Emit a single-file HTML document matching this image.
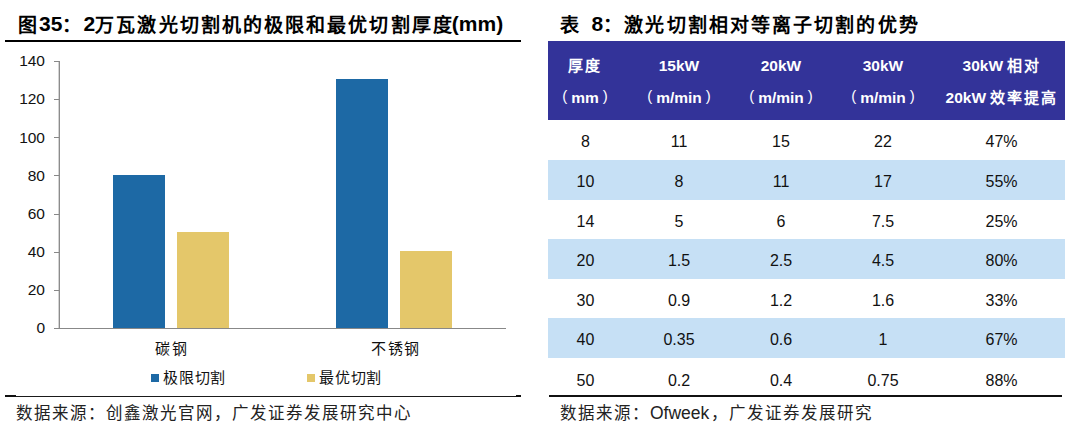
<!DOCTYPE html>
<html lang="zh-CN">
<head>
<meta charset="utf-8">
<style>
html,body{margin:0;padding:0}
body{width:1080px;height:432px;background:#fff;position:relative;overflow:hidden;font-family:"Liberation Sans",sans-serif;color:#111}
.a{position:absolute;white-space:nowrap}
.ttl{font-size:21px;font-weight:bold;line-height:20px;color:#000}
.ttl .c{font-size:19px;letter-spacing:2px;position:relative;top:0.5px}
.yl{font-size:15.5px;line-height:15px;width:30px;text-align:right;left:15px;color:#111}
.tick{left:54px;width:5px;height:1px;background:#888}
.bar{bottom:104px}
.b{background:#1D69A5}
.y{background:#E4C76A}
.cat{font-size:15px;line-height:16px;letter-spacing:1.5px;color:#111}
.fn{font-size:16.5px;line-height:18px;letter-spacing:1px;color:#222}
.row{left:548px;width:517px}
.lb{background:#C6E0F5}
.td{font-size:16px;line-height:16px;text-align:center;color:#111}
.th{font-size:15.5px;line-height:18px;font-weight:bold;text-align:center;color:#fff}
.th .hc{font-size:15px;letter-spacing:2px}
.p1{margin-right:4px;font-size:15px;font-weight:normal;position:relative;top:-2px}
.p2{margin-left:4px;font-size:15px;font-weight:normal;position:relative;top:-2px}
i{display:inline-block;font-style:normal;letter-spacing:0;text-align:left}
.ttl i{width:21.1px}
.cat i{width:16.5px}
.lg i{width:15.8px}
.fn i{width:18px}
.th i{width:17px}
</style>
</head>
<body>
<!-- ===== LEFT: chart ===== -->
<div class="a ttl" style="left:18px;top:14px"><span class="c"><i>图</i></span>35<span class="c"><i>：</i></span>2<span class="c"><i>万</i><i>瓦</i><i>激</i><i>光</i><i>切</i><i>割</i><i>机</i><i>的</i><i>极</i><i>限</i><i>和</i><i>最</i><i>优</i><i>切</i><i>割</i><i>厚</i><i>度</i></span><span style="margin-left:-2px">(mm)</span></div>
<div class="a" style="left:5px;top:40px;width:516px;height:2px;background:#000"></div>

<!-- y labels -->
<div class="a yl" style="top:53px">140</div>
<div class="a yl" style="top:91.3px">120</div>
<div class="a yl" style="top:129.5px">100</div>
<div class="a yl" style="top:167.6px">80</div>
<div class="a yl" style="top:205.8px">60</div>
<div class="a yl" style="top:244px">40</div>
<div class="a yl" style="top:282.1px">20</div>
<div class="a yl" style="top:320.3px">0</div>

<!-- axes -->
<div class="a" style="left:58px;top:61px;width:1px;height:268px;background:#d4d4d4"></div>
<div class="a" style="left:59px;top:61px;width:1px;height:268px;background:#8c8c8c"></div>
<div class="a tick" style="top:61px"></div>
<div class="a tick" style="top:99px"></div>
<div class="a tick" style="top:137px"></div>
<div class="a tick" style="top:175px"></div>
<div class="a tick" style="top:214px"></div>
<div class="a tick" style="top:252px"></div>
<div class="a tick" style="top:290px"></div>
<div class="a" style="left:54px;top:328px;width:452px;height:1px;background:#888"></div>

<!-- bars -->
<div class="a b" style="left:113px;top:175px;width:52px;height:153px"></div>
<div class="a y" style="left:177px;top:232px;width:52px;height:96px"></div>
<div class="a b" style="left:336px;top:79px;width:52px;height:249px"></div>
<div class="a y" style="left:400px;top:251px;width:52px;height:77px"></div>

<!-- categories -->
<div class="a cat" style="left:155px;top:341px"><i>碳</i><i>钢</i></div>
<div class="a cat" style="left:371px;top:341px"><i>不</i><i>锈</i><i>钢</i></div>

<!-- legend -->
<div class="a b" style="left:151px;top:374px;width:8px;height:8px"></div>
<div class="a cat lg" style="left:163px;top:369.5px"><i>极</i><i>限</i><i>切</i><i>割</i></div>
<div class="a y" style="left:307px;top:374px;width:8px;height:8px"></div>
<div class="a cat lg" style="left:319px;top:369.5px"><i>最</i><i>优</i><i>切</i><i>割</i></div>

<div class="a" style="left:5px;top:396px;width:516px;height:1px;background:#1a1a1a"></div>
<div class="a" style="left:5px;top:395px;width:11px;height:2px;background:#111"></div>
<div class="a" style="left:516px;top:395px;width:5px;height:2px;background:#111"></div>
<div class="a fn" style="left:16px;top:403.5px"><i>数</i><i>据</i><i>来</i><i>源</i><i>：</i><i>创</i><i>鑫</i><i>激</i><i>光</i><i>官</i><i>网</i><i>，</i><i>广</i><i>发</i><i>证</i><i>券</i><i>发</i><i>展</i><i>研</i><i>究</i><i>中</i><i>心</i></div>

<!-- ===== RIGHT: table ===== -->
<div class="a ttl" style="left:560px;top:14px"><span class="c"><i>表</i></span>&ensp;8<span class="c"><i>：</i><i>激</i><i>光</i><i>切</i><i>割</i><i>相</i><i>对</i><i>等</i><i>离</i><i>子</i><i>切</i><i>割</i><i>的</i><i>优</i><i>势</i></span></div>

<div class="a" style="left:548px;top:41px;width:517px;height:79px;background:#333399"></div>
<div class="a row lb" style="top:160px;height:40px"></div>
<div class="a row lb" style="top:239px;height:40px"></div>
<div class="a row lb" style="top:318px;height:40px"></div>
<div class="a" style="left:549px;top:395px;width:513px;height:2px;background:#111"></div>

<div class="a fn" style="left:560px;top:403.5px"><i>数</i><i>据</i><i>来</i><i>源</i><i>：</i><span style="letter-spacing:0;font-size:17.5px;margin-right:2px">Ofweek</span><i>，</i><i>广</i><i>发</i><i>证</i><i>券</i><i>发</i><i>展</i><i>研</i><i>究</i></div>

<!-- header -->
<div class="a th" style="left:545px;width:80px;top:57px"><span class="hc"><i>厚</i><i>度</i></span></div>
<div class="a th" style="left:545px;width:80px;top:89px"><span class="p1">(</span>mm<span class="p2">)</span></div>
<div class="a th" style="left:629px;width:100px;top:57px">15kW</div>
<div class="a th" style="left:629px;width:100px;top:89px"><span class="p1">(</span>m/min<span class="p2">)</span></div>
<div class="a th" style="left:731px;width:100px;top:57px">20kW</div>
<div class="a th" style="left:731px;width:100px;top:89px"><span class="p1">(</span>m/min<span class="p2">)</span></div>
<div class="a th" style="left:833px;width:100px;top:57px">30kW</div>
<div class="a th" style="left:833px;width:100px;top:89px"><span class="p1">(</span>m/min<span class="p2">)</span></div>
<div class="a th" style="left:942px;width:120px;top:57px">30kW <span class="hc"><i>相</i><i>对</i></span></div>
<div class="a th" style="left:942px;width:120px;top:89px">20kW <span class="hc"><i>效</i><i>率</i><i>提</i><i>高</i></span></div>

<div class="a td" style="left:535.5px;width:100px;top:134px">8</div>
<div class="a td" style="left:629px;width:100px;top:134px">11</div>
<div class="a td" style="left:731px;width:100px;top:134px">15</div>
<div class="a td" style="left:833px;width:100px;top:134px">22</div>
<div class="a td" style="left:951.5px;width:100px;top:134px">47%</div>
<div class="a td" style="left:535.5px;width:100px;top:174px">10</div>
<div class="a td" style="left:629px;width:100px;top:174px">8</div>
<div class="a td" style="left:731px;width:100px;top:174px">11</div>
<div class="a td" style="left:833px;width:100px;top:174px">17</div>
<div class="a td" style="left:951.5px;width:100px;top:174px">55%</div>
<div class="a td" style="left:535.5px;width:100px;top:213.5px">14</div>
<div class="a td" style="left:629px;width:100px;top:213.5px">5</div>
<div class="a td" style="left:731px;width:100px;top:213.5px">6</div>
<div class="a td" style="left:833px;width:100px;top:213.5px">7.5</div>
<div class="a td" style="left:951.5px;width:100px;top:213.5px">25%</div>
<div class="a td" style="left:535.5px;width:100px;top:253px">20</div>
<div class="a td" style="left:629px;width:100px;top:253px">1.5</div>
<div class="a td" style="left:731px;width:100px;top:253px">2.5</div>
<div class="a td" style="left:833px;width:100px;top:253px">4.5</div>
<div class="a td" style="left:951.5px;width:100px;top:253px">80%</div>
<div class="a td" style="left:535.5px;width:100px;top:293px">30</div>
<div class="a td" style="left:629px;width:100px;top:293px">0.9</div>
<div class="a td" style="left:731px;width:100px;top:293px">1.2</div>
<div class="a td" style="left:833px;width:100px;top:293px">1.6</div>
<div class="a td" style="left:951.5px;width:100px;top:293px">33%</div>
<div class="a td" style="left:535.5px;width:100px;top:332px">40</div>
<div class="a td" style="left:629px;width:100px;top:332px">0.35</div>
<div class="a td" style="left:731px;width:100px;top:332px">0.6</div>
<div class="a td" style="left:833px;width:100px;top:332px">1</div>
<div class="a td" style="left:951.5px;width:100px;top:332px">67%</div>
<div class="a td" style="left:535.5px;width:100px;top:373px">50</div>
<div class="a td" style="left:629px;width:100px;top:373px">0.2</div>
<div class="a td" style="left:731px;width:100px;top:373px">0.4</div>
<div class="a td" style="left:833px;width:100px;top:373px">0.75</div>
<div class="a td" style="left:951.5px;width:100px;top:373px">88%</div>
</body>
</html>
